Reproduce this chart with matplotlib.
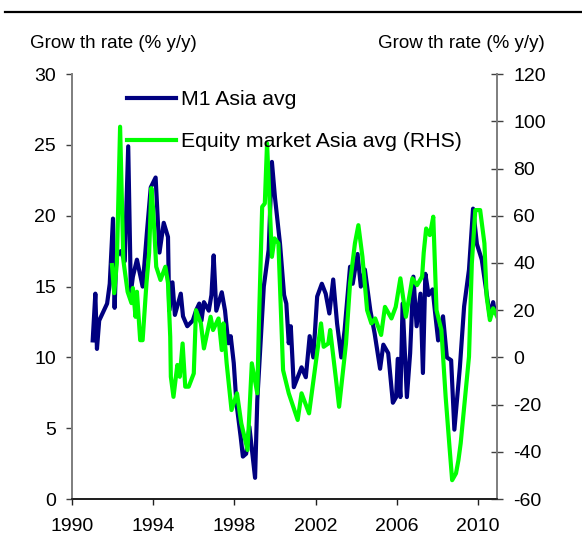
import matplotlib.pyplot as plt
from matplotlib.lines import Line2D

plt.rcParams['font.family'] = ['Liberation Sans', 'DejaVu Sans']

# M1 growth, Asia average (% y/y), left axis
m1_years = [1991.02, 1991.15, 1991.23, 1991.34, 1991.73, 1991.86, 1992.02, 1992.10,
            1992.18, 1992.40, 1992.60, 1992.77, 1992.90, 1993.00, 1993.20, 1993.48,
            1993.69, 1993.88, 1994.12, 1994.31, 1994.52, 1994.73, 1994.79, 1994.95,
            1995.07, 1995.36, 1995.47, 1995.68, 1995.95, 1996.11, 1996.27, 1996.38,
            1996.50, 1996.74, 1996.87, 1996.98, 1997.11, 1997.38, 1997.54, 1997.70,
            1997.82, 1997.97, 1998.10, 1998.31, 1998.42, 1998.58, 1998.74, 1999.02,
            1999.13, 1999.45, 1999.69, 1999.85, 2000.00, 2000.25, 2000.45, 2000.56,
            2000.68, 2000.78, 2000.93, 2001.12, 2001.31, 2001.52, 2001.71, 2001.89,
            2002.08, 2002.31, 2002.50, 2002.68, 2002.87, 2003.06, 2003.27, 2003.43,
            2003.70, 2003.83, 2004.07, 2004.23, 2004.43, 2004.70, 2004.91, 2005.18,
            2005.34, 2005.58, 2005.81, 2005.97, 2006.05, 2006.18, 2006.29, 2006.50,
            2006.66, 2006.82, 2006.98, 2007.17, 2007.29, 2007.41, 2007.57, 2007.77,
            2007.88, 2008.04, 2008.28, 2008.47, 2008.68, 2008.84, 2009.11, 2009.32,
            2009.56, 2009.76, 2009.95, 2010.19, 2010.40, 2010.59, 2010.75, 2010.83]
m1_vals = [11.2, 14.5, 10.6, 12.6, 13.8, 15.2, 19.8, 13.5,
           17.1, 17.5, 16.8, 24.9, 14.6, 15.7, 16.9, 15.0,
           18.8, 22.0, 22.7, 17.4, 19.5, 18.5, 13.3, 15.3,
           13.0, 14.5, 12.9, 12.2, 12.6, 13.3, 13.8, 12.6,
           13.9, 13.3, 14.4, 17.2, 13.3, 14.6, 13.3, 11.0,
           11.5, 9.6, 6.8, 4.4, 3.0, 3.2, 5.1, 1.5,
           7.0, 15.0, 17.6, 23.8, 21.3, 18.0, 14.4, 13.8,
           11.0, 12.2, 7.9, 8.6, 9.3, 8.6, 11.5, 10.0,
           14.3, 15.2, 14.5, 13.1, 15.5, 12.4, 10.0, 11.9,
           16.4, 15.2, 17.3, 15.0, 16.2, 13.3, 11.7, 9.2,
           10.9, 10.3, 6.8, 7.2, 9.9, 7.2, 13.8, 7.2,
           10.3, 15.7, 12.2, 14.5, 8.9, 15.9, 14.4, 14.8,
           13.3, 11.2, 12.9, 10.0, 9.8, 4.9, 9.3, 13.6,
           16.2, 20.5, 18.0, 16.9, 14.8, 12.9, 13.9, 13.2]

# Equity market growth, Asia average (% y/y), right axis
eq_years = [1991.97, 1992.08, 1992.21, 1992.37, 1992.53, 1992.74, 1992.93, 1993.00,
            1993.13, 1993.20, 1993.36, 1993.48, 1993.67, 1993.80, 1993.91, 1994.00,
            1994.15, 1994.36, 1994.60, 1994.73, 1994.84, 1994.87, 1995.00, 1995.19,
            1995.31, 1995.45, 1995.58, 1995.75, 1996.00, 1996.11, 1996.35, 1996.50,
            1996.83, 1996.95, 1997.22, 1997.38, 1997.46, 1997.62, 1997.86, 1998.13,
            1998.34, 1998.65, 1998.86, 1999.13, 1999.21, 1999.37, 1999.50, 1999.61,
            1999.85, 1999.98, 2000.17, 2000.40, 2000.68, 2001.12, 2001.31, 2001.68,
            2001.92, 2002.27, 2002.40, 2002.63, 2002.72, 2003.03, 2003.16, 2003.50,
            2003.70, 2003.94, 2004.11, 2004.31, 2004.54, 2004.75, 2004.94, 2005.23,
            2005.42, 2005.74, 2005.95, 2006.18, 2006.45, 2006.77, 2007.00, 2007.25,
            2007.33, 2007.45, 2007.63, 2007.80, 2007.96, 2008.20, 2008.41, 2008.60,
            2008.73, 2008.92, 2009.04, 2009.15, 2009.56, 2009.70, 2009.87, 2010.11,
            2010.32, 2010.43, 2010.59, 2010.75, 2010.95]
eq_vals = [39.1, 27.2, 40.0, 97.7, 41.2, 27.8, 23.0, 29.4,
           17.2, 27.8, 7.3, 7.3, 31.5, 44.2, 71.7, 62.4,
           38.4, 32.8, 38.4, 31.5, 8.7, -8.2, -16.7, -3.2,
           -8.2, 5.9, -12.4, -12.4, -6.8, 20.0, 14.4, 3.8,
           17.2, 11.6, 16.5, 3.1, 14.4, -2.5, -22.3, -15.2,
           -27.9, -39.2, -2.5, -15.2, 14.4, 63.8, 65.2, 90.7,
           42.6, 50.4, 48.3, -5.4, -15.2, -26.5, -15.2, -23.7,
           -8.2, 14.4, 4.5, 5.9, 11.6, -11.0, -20.9, 5.9,
           31.4, 48.3, 56.0, 42.6, 20.0, 14.4, 16.5, 9.5,
           21.4, 16.5, 21.4, 33.5, 17.2, 33.5, 30.6, 34.2,
           44.4, 54.6, 51.8, 59.6, 20.0, 11.6, -16.7, -37.9,
           -52.0, -49.1, -43.5, -36.4, 0.3, 39.8, 62.4, 62.4,
           48.3, 25.7, 15.8, 20.8, 17.2]

left_ticks = [0, 5, 10, 15, 20, 25, 30]
right_ticks = [-60, -40, -20, 0, 20, 40, 60, 80, 100, 120]
year_ticks = [1990, 1994, 1998, 2002, 2006, 2010]

fig = plt.figure(figsize=(5.82, 5.57), dpi=100)
ax = fig.add_axes([0.1237, 0.104, 0.7306, 0.763])
ax2 = ax.twinx()

l1, = ax.plot(m1_years, m1_vals, color='#000080', lw=3, label='M1 Asia avg')
l2, = ax2.plot(eq_years, eq_vals, color='#00FF00', lw=3,
               label='Equity market Asia avg (RHS)')

ax.set_xlim(1990, 2010.95)
ax.set_ylim(0, 30)
ax2.set_ylim(-60, 120)
ax.set_yticks(left_ticks)
ax2.set_yticks(right_ticks)
ax.set_xticks(year_ticks)
ax2.set_yticklabels([str(t) for t in right_ticks])  # plain hyphen minus

for a in (ax, ax2):
    a.spines['top'].set_visible(False)
    a.spines['left'].set_color('#808080')
    a.spines['right'].set_color('#808080')
    a.spines['bottom'].set_color('#202020')
    for s in a.spines.values():
        s.set_linewidth(1.3)

ax.tick_params(axis='y', direction='out', length=4.5, width=1, color='#404040',
               labelsize=14, pad=7)
ax.tick_params(axis='x', direction='out', length=4.5, width=1, color='#202020',
               labelsize=14, pad=9)
ax2.tick_params(axis='y', direction='inout', length=9, width=1, color='#404040',
                labelsize=14, pad=7)

fig.text(30 / 582, 1 - 43 / 557, 'Grow th rate (% y/y)', fontsize=13.5,
         ha='left', va='center')
fig.text(545 / 582, 1 - 43 / 557, 'Grow th rate (% y/y)', fontsize=13.5,
         ha='right', va='center')

ax2.legend(handles=[l1, l2], loc='upper left',
           bbox_to_anchor=(127 / 582, 1 - 90 / 557), bbox_transform=fig.transFigure,
           frameon=False, fontsize=15.3, handlelength=2.3, handletextpad=0.25,
           labelspacing=1.1, borderpad=0, borderaxespad=0)

fig.add_artist(Line2D([5 / 582, 1], [1 - 12 / 557, 1 - 12 / 557],
                      transform=fig.transFigure, color='black', lw=1.6))

fig.savefig('out.png', dpi=100)
